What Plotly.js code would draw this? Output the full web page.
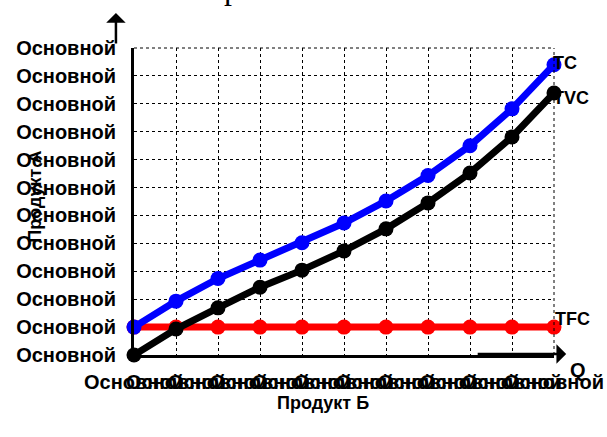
<!DOCTYPE html>
<html>
<head>
<meta charset="utf-8">
<script src="https://cdn.plot.ly/plotly-3.0.1.min.js"></script>
<style>html,body{margin:0;padding:0;background:#fff;}#chart{width:607px;height:437px;}</style>
</head>
<body>
<div id="chart"></div>
<script>
// Data
const quantity = [0, 1, 2, 3, 4, 5, 6, 7, 8, 9, 10];
const tcValues  = [1, 1.93, 2.74, 3.4, 4.02, 4.73, 5.52, 6.43, 7.5, 8.82, 10.4];
const tvcValues = [0, 0.93, 1.69, 2.43, 3.04, 3.73, 4.52, 5.45, 6.52, 7.81, 9.39];
const tfcValues = [1, 1, 1, 1, 1, 1, 1, 1, 1, 1, 1];
const xTickVals = [0, 1, 2, 3, 4, 5, 6, 7, 8, 9, 10];
const yTickVals = [0, 1, 2, 3, 4, 5, 6, 7, 8, 9, 10, 11];
const tickLabel = "Основной";
const xTickText = xTickVals.map(() => tickLabel);
const yTickText = yTickVals.map(() => tickLabel);
const seriesNames = ["TFC", "TVC", "TC"];
const xTitle = "Продукт Б";
const yTitle = "Продукт А";
const qLabel = "Q";

const FONT = "Liberation Sans, Arial, sans-serif";
const last = quantity.length - 1;

const traces = [
  {x: quantity, y: tfcValues, name: seriesNames[0], mode: "lines+markers", cliponaxis: false,
   line: {color: "#ff0000", width: 7}, marker: {color: "#ff0000", size: 15}},
  {x: quantity, y: tvcValues, name: seriesNames[1], mode: "lines+markers", cliponaxis: false,
   line: {color: "#000000", width: 7}, marker: {color: "#000000", size: 15}},
  {x: quantity, y: tcValues, name: seriesNames[2], mode: "lines+markers", cliponaxis: false,
   line: {color: "#0000ff", width: 7}, marker: {color: "#0000ff", size: 15}}
];

const layout = {
  width: 607, height: 437,
  margin: {l: 134, r: 53, t: 48, b: 82},
  paper_bgcolor: "#ffffff", plot_bgcolor: "#ffffff",
  showlegend: false,
  font: {family: FONT, color: "#000"},
  xaxis: {
    range: [0, 10], tickvals: xTickVals, ticktext: xTickText, tickangle: 0,
    tickfont: {family: FONT, size: 20, color: "#000", weight: "bold"},
    showgrid: true, gridcolor: "#000", griddash: "dot", gridwidth: 1,
    showline: true, linecolor: "#000", linewidth: 3, zeroline: false,
    ticks: "", ticklabelstandoff: 7, fixedrange: true
  },
  yaxis: {
    range: [0, 11], tickvals: yTickVals, ticktext: yTickText,
    tickfont: {family: FONT, size: 20, color: "#000", weight: "bold"},
    showgrid: true, gridcolor: "#000", griddash: "dot", gridwidth: 1,
    showline: true, linecolor: "#000", linewidth: 3, zeroline: false,
    ticks: "", ticklabelstandoff: 11, fixedrange: true
  },
  shapes: [
    {type: "line", xref: "paper", yref: "paper", x0: 0, x1: 1, y0: 1, y1: 1,
     line: {color: "#000", width: 1, dash: "dot"}},
    {type: "line", xref: "paper", yref: "paper", x0: 1, x1: 1, y0: 0, y1: 1,
     line: {color: "#000", width: 1, dash: "dot"}}
  ],
  annotations: [
    {x: quantity[last], y: tcValues[last], xref: "x", yref: "y", text: "<b>" + seriesNames[2] + "</b>",
     showarrow: false, xanchor: "left", yanchor: "middle", xshift: -3, yshift: 2,
     font: {family: FONT, size: 18, color: "#000"}},
    {x: quantity[last], y: tvcValues[last], xref: "x", yref: "y", text: "<b>" + seriesNames[1] + "</b>",
     showarrow: false, xanchor: "left", yanchor: "middle", xshift: -3, yshift: -5,
     font: {family: FONT, size: 18, color: "#000"}},
    {x: quantity[last], y: tfcValues[last], xref: "x", yref: "y", text: "<b>" + seriesNames[0] + "</b>",
     showarrow: false, xanchor: "left", yanchor: "middle", xshift: -1, yshift: 8,
     font: {family: FONT, size: 18, color: "#000"}},
    {x: -0.236, y: 0.515, xref: "paper", yref: "paper", text: "<b>" + yTitle + "</b>",
     showarrow: false, textangle: -90, xanchor: "center", yanchor: "middle",
     font: {family: FONT, size: 18, color: "#000"}},
    {x: 0.45, y: -0.156, xref: "paper", yref: "paper", text: "<b>" + xTitle + "</b>",
     showarrow: false, xanchor: "center", yanchor: "middle",
     font: {family: FONT, size: 18, color: "#000"}},
    {x: 1.057, y: -0.05, xref: "paper", yref: "paper", text: "<b>" + qLabel + "</b>",
     showarrow: false, xanchor: "center", yanchor: "middle",
     font: {family: FONT, size: 20, color: "#000"}},
    // y-axis arrow
    {x: -0.043, y: 1.114, xref: "paper", yref: "paper", text: "", showarrow: true,
     ax: 0, ay: 32, arrowhead: 1, arrowsize: 1.3, arrowwidth: 2.5, arrowcolor: "#000"},
    // x-axis arrow
    {x: 1.029, y: 0.003, xref: "paper", yref: "paper", text: "", showarrow: true,
     ax: -90, ay: 0, arrowhead: 1, arrowsize: 1.3, arrowwidth: 2.5, arrowcolor: "#000"},
    // cut-off title fragment
    {x: (232 - 134) / 420, y: 1.129, xref: "paper", yref: "paper", text: "р",
     showarrow: false, xanchor: "center", yanchor: "bottom",
     font: {family: "Liberation Serif, serif", size: 32, color: "#000"}}
  ]
};

Plotly.newPlot("chart", traces, layout, {displayModeBar: false, staticPlot: true});
</script>
</body>
</html>
